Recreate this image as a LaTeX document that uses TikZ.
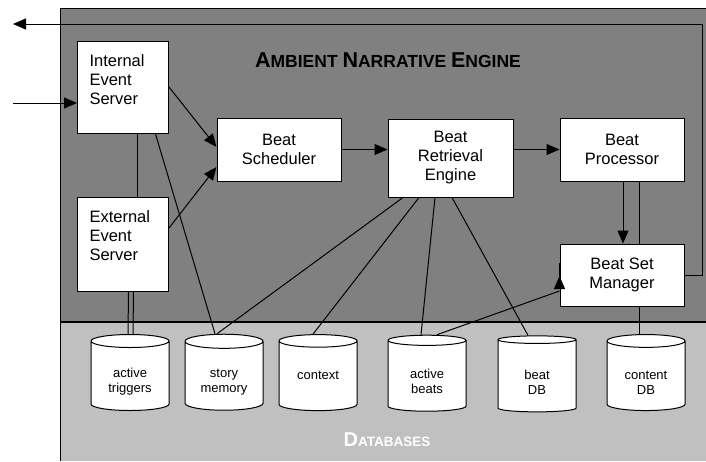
\documentclass[tikz,border=0pt]{standalone}
\usepackage{fontspec}
\setmainfont{Liberation Sans}
\usetikzlibrary{shapes.geometric,arrows.meta,positioning,calc}

\definecolor{enginegray}{HTML}{808080}
\definecolor{dbgray}{HTML}{C0C0C0}
\newcommand{\boxfont}{\fontsize{16.5}{19}\selectfont}
\newcommand{\dbfont}{\fontsize{13}{15}\selectfont}
\newcommand{\initial}[2][21.5]{{\fontsize{#1}{#1}\selectfont #2}}

\begin{document}
\begin{tikzpicture}[x=1pt, y=-1pt, line width=1pt, >={Triangle[length=13pt,width=11pt]}]
        \tikzstyle{block} = [rectangle, draw, fill=white, text centered, font=\boxfont, inner sep=0pt]
        \tikzstyle{server} = [block, align=left, text width=67, anchor=north west]
        \tikzstyle{db} = [cylinder, shape border rotate=90, draw, fill=white, aspect=0.3, minimum width=78, minimum height=76, font=\dbfont, align=center, inner sep=0pt]
        \tikzstyle{line} = [draw, ->]

        \useasboundingbox (0,0) rectangle (706,461);
        % background regions
        \fill [enginegray] (60,8) rectangle (706,322);
        \fill [dbgray] (60,322) rectangle (706,461);
        \draw (706,8) -- (60,8) -- (60,461);
        \draw [line width=2pt] (60,322) -- (706,322);

        \node [font=\bfseries\fontsize{17.5}{18}\selectfont] (title) at (388,60) {\initial{A}MBIENT \initial{N}ARRATIVE \initial{E}NGINE};
        \node [font=\bfseries\fontsize{13.5}{14}\selectfont, text=white] (dbtitle) at (387,440) {\initial[20]{D}ATABASES};

        % engine components
        \node [server, minimum width=91, minimum height=92] (ies) at (77,41) {Internal\\Event\\Server\\[-3pt]\mbox{}};
        \node [server, minimum width=91, minimum height=94] (ees) at (77,197) {External\\Event\\Server\\[-1pt]\mbox{}};
        \node [block, minimum width=124, minimum height=63, align=center] (bs) at (279,149.5) {Beat\\Scheduler};
        \node [block, minimum width=125, minimum height=78, align=center] (bre) at (450.5,158) {Beat\\Retrieval\\Engine};
        \node [block, minimum width=124, minimum height=63, align=center] (bp) at (622,149.5) {Beat\\Processor};
        \node [block, minimum width=124, minimum height=62, align=center] (bsm) at (622,275) {Beat Set\\Manager};

        % databases
        \node [db] (atrig) at (130,376) {\mbox{}\\[6pt]active\\triggers};
        \node [db] (smem) at (224,376) {\mbox{}\\[6pt]story\\memory};
        \node [db] (ctx) at (318,376) {\mbox{}\\[6pt]context\\\mbox{}};
        \node [db] (abeats) at (427,376) {\mbox{}\\[6pt]active\\beats};
        \node [db] (bdb) at (537,376) {\mbox{}\\[6pt]beat\\DB};
        \node [db] (cdb) at (646,376) {\mbox{}\\[6pt]content\\DB};

        % event flow
        \coordinate (src) at (13,103);
        \coordinate (dst) at (13,24);
        \coordinate (corner) at (702,24);
        \path [line] (src) -- (src -| ies.west);
        \path [line] ($(ies.north east)+(0,46)$) -- ($(bs.west)+(0,-2.5)$);
        \path [line] ($(ees.north east)+(0,31)$) -- ($(bs.west)+(0,17.5)$);
        \path [line] (bs.east) -- (bs.east -| bre.west);
        \path [line] (bre.east |- bp.west) -- (bp.west);
        \path [line] ($(bp.south)+(1,0)$) -- ($(bsm.north)+(1,0)$);
        \draw ($(bp.south)+(17,0)$) -- ($(bsm.north)+(17,0)$);
        \path [line] ($(bsm.west)+(0,1)$) -- ($(bsm.west)+(0,1)$ -| ees.east);
        \path [line] (bsm.east) -- (bsm.east -| corner) -- (corner) -- (dst);
        \draw ($(ies.south)+(14.5,0)$) -- ($(ees.north)+(14.5,0)$);

        % database links
        \draw ($(ies.south)+(32.5,0)$) -- ($(smem.top)+(-9,0)$);
        \draw ($(ees.south)+(5.5,0)$) -- ($(atrig.top)+(-2,0)$);
        \draw ($(ees.south)+(10.5,0)$) -- ($(atrig.top)+(3,0)$);
        \draw ($(bre.south)+(-47.5,0)$) -- ($(smem.top)+(-7,0)$);
        \draw ($(bre.south)+(-31.5,0)$) -- ($(ctx.top)+(-5,0)$);
        \draw ($(bre.south)+(-15.5,0)$) -- ($(abeats.top)+(-6,0)$);
        \draw ($(bre.south)+(1.5,0)$) -- ($(bdb.top)+(-9,0)$);
        \draw ($(bsm.west)+(0,16)$) -- ($(abeats.top)+(10,0)$);
        \draw ($(bsm.south)+(17,0)$) -- ($(cdb.top)+(-7,0)$);
\end{tikzpicture}
\end{document}
